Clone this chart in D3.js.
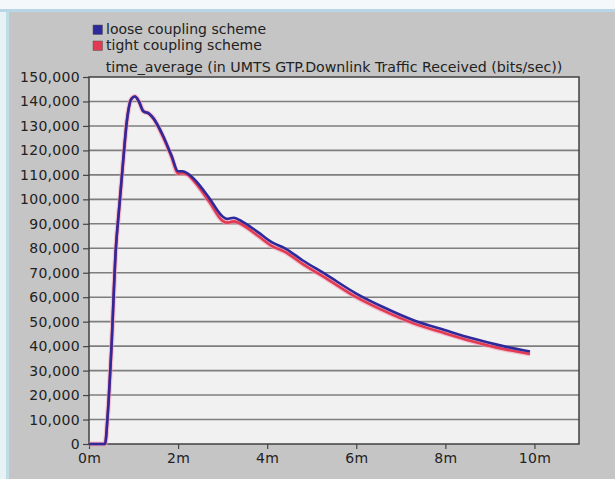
<!DOCTYPE html>
<html><head><meta charset="utf-8">
<script src="https://cdn.jsdelivr.net/npm/d3@7"></script>
<style>
html,body{margin:0;padding:0;background:#fff;}
svg{display:block;}
text{font-family:"DejaVu Sans",sans-serif;fill:#222;}
</style></head>
<body>
<script>
// ---- data ----
const seriesNames = ["loose coupling scheme", "tight coupling scheme"];
const seriesColors = ["#2f2a9c", "#e23a52"];
const chartTitle = "time_average (in UMTS GTP.Downlink Traffic Received (bits/sec))";
const yTicks = [0,10000,20000,30000,40000,50000,60000,70000,80000,90000,100000,110000,120000,130000,140000,150000];
const xTicks = [0,2,4,6,8,10];
const xTickLabels = ["0m","2m","4m","6m","8m","10m"];
// time in minutes
const looseTime = [0,0.36,0.42,0.50,0.60,0.68,0.75,0.85,0.95,1.03,1.12,1.22,1.35,1.45,1.65,1.85,2.0,2.1,2.22,2.4,2.7,3.0,3.1,3.25,3.45,3.8,4.1,4.4,4.8,5.3,6.0,6.6,7.3,8.0,8.6,9.3,9.9];
const looseValue = [0,0,12000,38000,79000,97000,112000,132000,141000,142000,140000,136000,135000,133000,126500,118000,111500,111500,110500,107500,100500,93000,92000,92500,90800,86500,82500,80000,75000,69500,61500,56000,50500,46500,43200,40000,37800];
const tightTime = [0,0.36,0.42,0.50,0.60,0.68,0.75,0.85,0.95,1.03,1.12,1.22,1.35,1.45,1.65,1.85,2.0,2.1,2.22,2.4,2.7,3.0,3.1,3.25,3.45,3.8,4.1,4.4,4.8,5.3,6.0,6.6,7.3,8.0,8.6,9.3,9.9];
const tightValue = [0,0,12000,38000,79000,97000,112000,132000,141000,142000,140000,136000,135000,133000,126000,117500,110500,110800,110000,106500,99000,91200,90500,91000,89500,85000,81000,78500,73500,68000,60000,54600,49200,45200,42000,38800,36800];

const W = 615, H = 479;
const m = {left: 89, right: 36, top: 77, bottom: 35};
const svg = d3.select("body").append("svg").attr("width", W).attr("height", H);

// window background
svg.append("rect").attr("width", W).attr("height", H).attr("fill", "#c5c5c5");
svg.append("rect").attr("x",0).attr("y",0).attr("width",W).attr("height",9).attr("fill","#f4f8fa");
svg.append("rect").attr("x",0).attr("y",9).attr("width",W).attr("height",3).attr("fill","#b9d6e6");
svg.append("rect").attr("x",0).attr("y",12).attr("width",6).attr("height",H-12).attr("fill","#e6f2f4");
svg.append("rect").attr("x",6).attr("y",12).attr("width",3).attr("height",H-12).attr("fill","#bfdde6");

const x = d3.scaleLinear().domain([0, 11]).range([m.left, W - m.right]);
const y = d3.scaleLinear().domain([0, 150000]).range([H - m.bottom, m.top]);

// plot area
svg.append("rect").attr("x", x(0)).attr("y", y(150000)).attr("width", x(11)-x(0)).attr("height", y(0)-y(150000)).attr("fill", "#f1f1f1");

// gridlines
svg.append("g").selectAll("line").data(yTicks.slice(1,-1)).join("line")
  .attr("x1", x(0)).attr("x2", x(11)).attr("y1", d=>y(d)).attr("y2", d=>y(d))
  .attr("stroke", "#7e7e7e").attr("stroke-width", 1.6);

// axes
const fmt = d3.format(",");
const yAxis = svg.append("g").attr("transform", `translate(${x(0)},0)`)
  .call(d3.axisLeft(y).tickValues(yTicks).tickFormat(fmt).tickSize(6).tickPadding(3));
const xAxis = svg.append("g").attr("transform", `translate(0,${y(0)})`)
  .call(d3.axisBottom(x).tickValues(xTicks).tickFormat((d,i)=>xTickLabels[i]).tickSize(5).tickPadding(4));
[yAxis, xAxis].forEach(a=>{
  a.select(".domain").remove();
  a.selectAll(".tick line").attr("stroke", "#444").attr("stroke-width", 1.2);
  a.selectAll(".tick text").attr("font-size", 14).attr("letter-spacing", "0.3px")
    .style("font-family", '"DejaVu Sans",sans-serif').attr("fill", "#2a2a2a");
});

// border
svg.append("rect").attr("x", x(0)).attr("y", y(150000)).attr("width", x(11)-x(0)).attr("height", y(0)-y(150000))
  .attr("fill", "none").attr("stroke", "#404040").attr("stroke-width", 1.5);

// lines
const line = d3.line().x(d=>x(d[0])).y(d=>y(d[1])).curve(d3.curveMonotoneX);
const tight = tightTime.map((t,i)=>[t, tightValue[i]]);
const loose = looseTime.map((t,i)=>[t, looseValue[i]]);
svg.append("path").datum(tight).attr("d", line).attr("fill","none")
  .attr("stroke", "#f3a0b8").attr("stroke-width", 5).attr("stroke-opacity", 0.6);
svg.append("path").datum(tight).attr("d", line).attr("fill","none")
  .attr("stroke", seriesColors[1]).attr("stroke-width", 2.6);
svg.append("path").datum(loose).attr("d", line).attr("fill","none")
  .attr("stroke", seriesColors[0]).attr("stroke-width", 2.6);

// title
svg.append("text").attr("x", (x(0)+x(11))/2).attr("y", 72).attr("text-anchor","middle")
  .attr("font-size", 14.2).text(chartTitle);

// legend
const lg = svg.append("g");
seriesNames.forEach((n,i)=>{
  lg.append("rect").attr("x", 93).attr("y", 25 + i*16).attr("width", 9.5).attr("height", 9.5)
    .attr("fill", seriesColors[i]).attr("stroke", "#555").attr("stroke-width", 0.5);
  lg.append("text").attr("x", 106).attr("y", 34 + i*16).attr("font-size", 14).text(n);
});
</script>
</body></html>
